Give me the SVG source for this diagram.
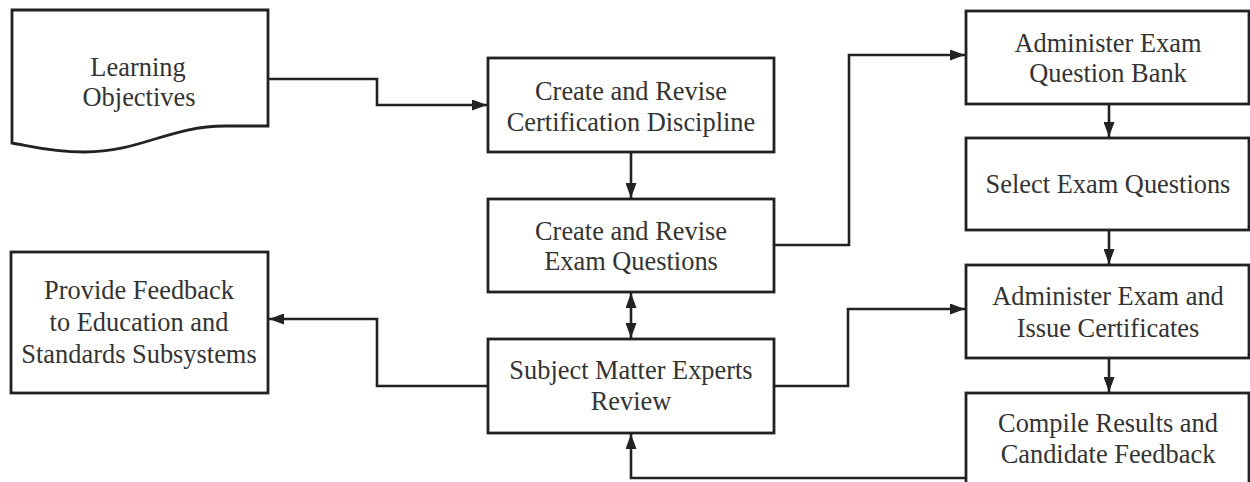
<svg xmlns="http://www.w3.org/2000/svg" width="1250" height="482" viewBox="0 0 1250 482">
<style>
.box{fill:#fff;stroke:#222;stroke-width:2.8}
.t{font-family:"Liberation Serif","Times New Roman",serif;font-size:26.4px;fill:#333;text-anchor:middle}
.c{fill:none;stroke:#222;stroke-width:2.6}
</style>
<defs>
<marker id="ah" viewBox="0 0 15 11" refX="15" refY="5.5" markerWidth="15" markerHeight="11" markerUnits="userSpaceOnUse" orient="auto-start-reverse">
<path d="M0,0 L15,5.5 L0,11 Z" fill="#222"/>
</marker>
</defs>
<rect width="1250" height="482" fill="#fff"/>
<g id="connectors">
<path class="c" d="M268,79 H377 V105 H487" marker-end="url(#ah)"/>
<path class="c" d="M631,152 V198" marker-end="url(#ah)"/>
<path class="c" d="M774,245 H849 V55 H965" marker-end="url(#ah)"/>
<path class="c" d="M631,293 V338" marker-start="url(#ah)" marker-end="url(#ah)"/>
<path class="c" d="M487,386 H377 V319 H269" marker-end="url(#ah)"/>
<path class="c" d="M774,386 H848 V309 H965" marker-end="url(#ah)"/>
<path class="c" d="M965,478 H631 V434" marker-end="url(#ah)"/>
<path class="c" d="M1109,104 V137" marker-end="url(#ah)"/>
<path class="c" d="M1109,230 V264" marker-end="url(#ah)"/>
<path class="c" d="M1109,358 V392" marker-end="url(#ah)"/>
</g>
<g id="learning-objectives">
<path class="box" d="M12,10 H268 V126 H225 C170,126 140,152 85,152 C50,152 30,146 12,143 Z"/>
<text class="t" x="138" y="76">Learning</text>
<text class="t" x="139" y="106">Objectives</text>
</g>
<g id="cert-discipline">
<rect class="box" x="488" y="58" width="286" height="94"/>
<text class="t" x="631" y="100">Create and Revise</text>
<text class="t" x="631" y="131">Certification Discipline</text>
</g>
<g id="exam-questions">
<rect class="box" x="488" y="199" width="286" height="93"/>
<text class="t" x="631" y="240">Create and Revise</text>
<text class="t" x="631" y="270">Exam Questions</text>
</g>
<g id="sme-review">
<rect class="box" x="488" y="339" width="286" height="94"/>
<text class="t" x="631" y="379">Subject Matter Experts</text>
<text class="t" x="631" y="410">Review</text>
</g>
<g id="provide-feedback">
<rect class="box" x="11" y="252" width="257" height="141"/>
<text class="t" x="139" y="299">Provide Feedback</text>
<text class="t" x="139" y="331">to Education and</text>
<text class="t" x="139" y="363">Standards Subsystems</text>
</g>
<g id="question-bank">
<rect class="box" x="966" y="11" width="283" height="93"/>
<text class="t" x="1108" y="52">Administer Exam</text>
<text class="t" x="1108" y="82">Question Bank</text>
</g>
<g id="select-questions">
<rect class="box" x="966" y="138" width="283" height="92"/>
<text class="t" x="1108" y="193">Select Exam Questions</text>
</g>
<g id="administer-exam">
<rect class="box" x="966" y="265" width="283" height="93"/>
<text class="t" x="1108" y="305">Administer Exam and</text>
<text class="t" x="1108" y="337">Issue Certificates</text>
</g>
<g id="compile-results">
<rect class="box" x="966" y="393" width="283" height="100"/>
<text class="t" x="1108" y="432">Compile Results and</text>
<text class="t" x="1108" y="463">Candidate Feedback</text>
</g>
</svg>
